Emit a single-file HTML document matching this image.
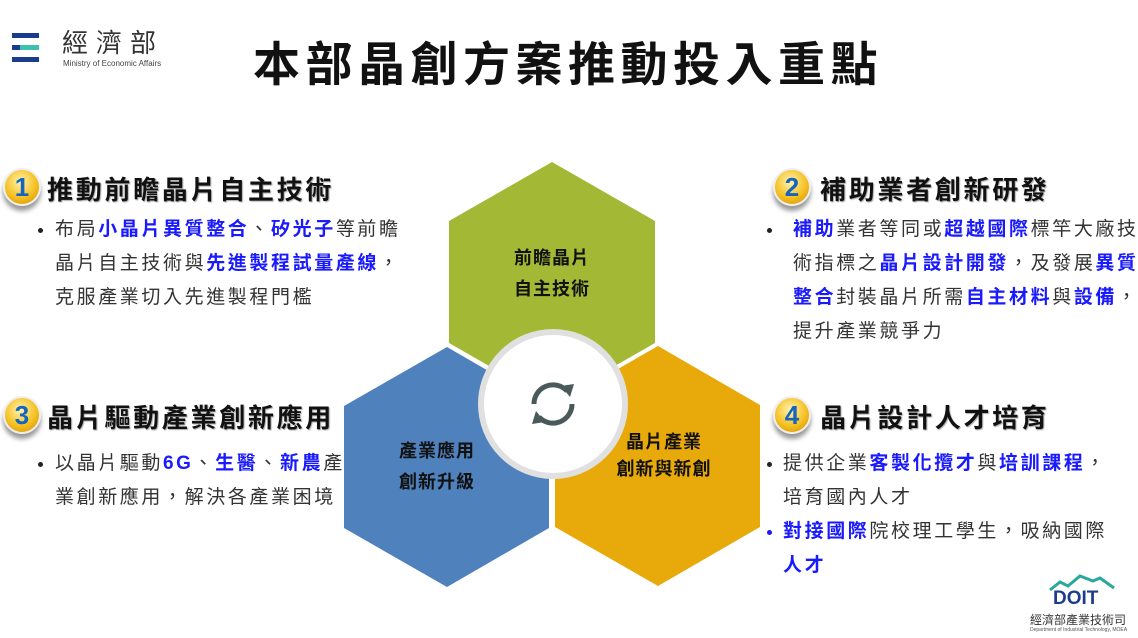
<!DOCTYPE html>
<html><head><meta charset="utf-8"><style>
body{margin:0;width:1138px;height:638px;background:#fff;position:relative;overflow:hidden;font-family:"Liberation Sans","Noto Sans CJK TC",sans-serif;}
.a{position:absolute;white-space:nowrap;}
.h{font-size:26px;font-weight:bold;letter-spacing:2.7px;color:#111;text-shadow:1px 1px 1px #aaa;}
.t{font-size:19px;letter-spacing:2.6px;color:#333;line-height:34px;}
.b{color:#1a1aff;font-weight:bold;}
.badge{position:absolute;width:34px;height:34px;border-radius:50%;background:radial-gradient(circle at 45% 35%,#fff3b0,#f5c020 55%,#d08a00);box-shadow:0 5px 5px #999;border:2px solid #eee;font:bold 26px/34px "Liberation Sans",sans-serif;color:#1565c0;text-align:center;}
.dot{position:absolute;width:5px;height:5px;border-radius:50%;background:#222;}
.hx{font-size:18px;font-weight:bold;color:#111;text-align:center;line-height:31px;letter-spacing:1px;}
</style></head><body>
<div class="a" style="left:12px;top:33px;width:27px;height:5px;background:#1a3c8c"></div>
<div class="a" style="left:12px;top:45px;width:8px;height:5px;background:#1a3c8c"></div>
<div class="a" style="left:20px;top:45px;width:19px;height:5px;background:#3cc0b0"></div>
<div class="a" style="left:12px;top:57px;width:27px;height:5px;background:#1a3c8c"></div>
<div class="a" style="left:62px;top:29px;font-size:26px;line-height:28px;letter-spacing:8px;color:#333">經濟部</div>
<div class="a" style="left:63px;top:60px;font-size:8px;line-height:8px;color:#444">Ministry of Economic Affairs</div>
<div class="a" style="left:253px;top:26px;font-size:47px;font-weight:bold;letter-spacing:5.5px;color:#111">本部晶創方案推動投入重點</div>

<svg class="a" style="left:0;top:0" width="1138" height="638">
<polygon points="552,162 655,221 655,343 552,402 449,343 449,221" fill="#a3b935"/>
<polygon points="447,347 549,406 549,528 447,587 344,528 344,406" fill="#4f81bd"/>
<polygon points="658,346 760,405 760,527 658,586 555,527 555,405" fill="#e8a90a"/>
<circle cx="553" cy="404" r="72" fill="#fff" stroke="#e0e0e0" stroke-width="6"/>
<g fill="none" stroke="#4a5a5a" stroke-width="5">
<path d="M534,404 A19,19 0 0 1 567,391"/><path d="M572,404 A19,19 0 0 1 539,417"/>
</g>
<polygon points="561,386 574,384 570,397" fill="#4a5a5a"/>
<polygon points="545,422 532,424 536,411" fill="#4a5a5a"/>
</svg>
<div class="a hx" style="left:492px;top:243px;width:120px">前瞻晶片<br>自主技術</div>
<div class="a hx" style="left:377px;top:436px;width:120px">產業應用<br>創新升級</div>
<div class="a hx" style="left:604px;top:429px;width:120px;line-height:27px">晶片產業<br>創新與新創</div>

<div class="badge" style="left:3px;top:168px">1</div>
<div class="a h" style="left:47px;top:170px">推動前瞻晶片自主技術</div>
<div class="dot" style="left:38px;top:228px"></div>
<div class="a t" style="left:55px;top:213px">布局<span class="b">小晶片異質整合</span>、<span class="b">矽光子</span>等前瞻<br>晶片自主技術與<span class="b">先進製程試量產線</span>，<br>克服產業切入先進製程門檻</div>

<div class="badge" style="left:773px;top:168px">2</div>
<div class="a h" style="left:820px;top:170px">補助業者創新研發</div>
<div class="dot" style="left:767px;top:228px"></div>
<div class="a t" style="left:793px;top:213px"><span class="b">補助</span>業者等同或<span class="b">超越國際</span>標竿大廠技<br>術指標之<span class="b">晶片設計開發</span>，及發展<span class="b">異質</span><br><span class="b">整合</span>封裝晶片所需<span class="b">自主材料</span>與<span class="b">設備</span>，<br>提升產業競爭力</div>

<div class="badge" style="left:3px;top:396px">3</div>
<div class="a h" style="left:47px;top:398px">晶片驅動產業創新應用</div>
<div class="dot" style="left:38px;top:462px"></div>
<div class="a t" style="left:55px;top:447px">以晶片驅動<span class="b">6G</span>、<span class="b">生醫</span>、<span class="b">新農</span>產<br>業創新應用，解決各產業困境</div>

<div class="badge" style="left:773px;top:396px">4</div>
<div class="a h" style="left:820px;top:398px">晶片設計人才培育</div>
<div class="dot" style="left:767px;top:462px"></div>
<div class="dot" style="left:767px;top:530px;background:#1a1aff"></div>
<div class="a t" style="left:783px;top:447px">提供企業<span class="b">客製化攬才</span>與<span class="b">培訓課程</span>，<br>培育國內人才<br><span class="b">對接國際</span>院校理工學生，吸納國際<br><span class="b">人才</span></div>

<svg class="a" style="left:1048px;top:572px" width="70" height="20"><path d="M2,18 L12,10 L20,14 L32,4 L45,9 L52,6 L66,16" fill="none" stroke="#2aa89a" stroke-width="3"/></svg>
<div class="a" style="left:1053px;top:588px;font:bold 19px 'Liberation Sans',sans-serif;color:#1e3c8c">DOIT</div>
<div class="a" style="left:1030px;top:611px;font-size:12px;color:#333">經濟部產業技術司</div>
<div class="a" style="left:1030px;top:627px;font-size:5px;color:#555">Department of Industrial Technology, MOEA</div>
</body></html>
